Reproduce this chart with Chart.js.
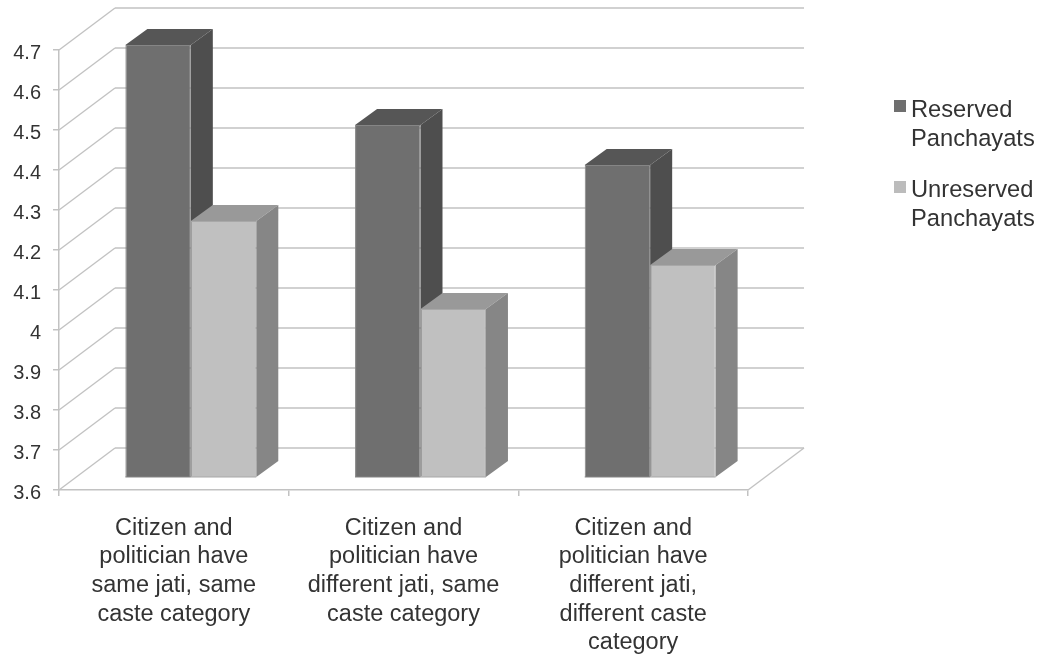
<!DOCTYPE html>
<html>
<head>
<meta charset="utf-8">
<title>Panchayats</title>
<script src="https://cdn.jsdelivr.net/npm/chart.js@4"></script>
<style>
  html, body { margin: 0; padding: 0; background: #fff; }
  canvas { display: block; }
</style>
</head>
<body>
<canvas id="chart" width="1055" height="659"></canvas>
<script>
const categories = [
    ["Citizen and", "politician have", "same jati, same", "caste category"],
    ["Citizen and", "politician have", "different jati, same", "caste category"],
    ["Citizen and", "politician have", "different jati,", "different caste", "category"]
];
const seriesNames = [["Reserved", "Panchayats"], ["Unreserved", "Panchayats"]];
const reserved = [4.68, 4.48, 4.38];
const unreserved = [4.24, 4.02, 4.13];
const yTicks = [3.6, 3.7, 3.8, 3.9, 4, 4.1, 4.2, 4.3, 4.4, 4.5, 4.6, 4.7];

// face colours per series: front, top, side, edge
const FRONT = ['#6f6f6f', '#c0c0c0'], TOP = ['#565656', '#999999'], SIDE = ['#4e4e4e', '#868686'], EDGE = ['#858585', '#a8a8a8'];
const GRID = '#c2c2c2', TEXT = '#333333', FONT = '"Liberation Sans", Arial, sans-serif';

// depth of the box the chart sits in, and of the bars inside it
const WALL_X = 56, WALL_Y = -42, BAR_SHIFT_X = 17, BAR_SHIFT_Y = -13, BAR_DX = 22, BAR_DY = -16;

function poly(ctx, pts, fill) {
    ctx.beginPath();
    pts.forEach((p, i) => i ? ctx.lineTo(p[0], p[1]) : ctx.moveTo(p[0], p[1]));
    ctx.closePath();
    ctx.fillStyle = fill;
    ctx.fill();
}

function seg(ctx, x1, y1, x2, y2) {
    ctx.beginPath();
    ctx.moveTo(x1, y1);
    ctx.lineTo(x2, y2);
    ctx.stroke();
}

const box3d = {
    id: 'box3d',
    beforeDatasetsDraw(chart) {
        const { ctx, chartArea: a, scales: { y } } = chart;
        ctx.save();
        ctx.strokeStyle = GRID;
        ctx.lineWidth = 1.4;
        // left wall diagonals and back wall lines, one per tick
        yTicks.forEach(v => {
            const py = y.getPixelForValue(v);
            seg(ctx, a.left, py, a.left + WALL_X, py + WALL_Y);
            seg(ctx, a.left + WALL_X, py + WALL_Y, a.right + WALL_X, py + WALL_Y);
        });
        seg(ctx, a.right, a.bottom, a.right + WALL_X, a.bottom + WALL_Y);
        ctx.restore();

        // tops and sides go first so the front faces land over them
        ctx.save();
        ctx.translate(BAR_SHIFT_X, BAR_SHIFT_Y);
        chart.data.datasets.forEach((ds, i) => {
            chart.getDatasetMeta(i).data.forEach(bar => {
                const l = bar.x - bar.width / 2, r = bar.x + bar.width / 2;
                // bar.base sits at zero, far under the axis, so the floor comes from the chart area
                const b = a.bottom;
                poly(ctx, [[l, bar.y], [l + BAR_DX, bar.y + BAR_DY], [r + BAR_DX, bar.y + BAR_DY], [r, bar.y]], TOP[i]);
                poly(ctx, [[r, bar.y], [r + BAR_DX, bar.y + BAR_DY], [r + BAR_DX, b + BAR_DY], [r, b]], SIDE[i]);
            });
        });
        ctx.restore();

        // the library's own bars, pushed back off the floor edge
        ctx.save();
        ctx.translate(BAR_SHIFT_X, BAR_SHIFT_Y);
    },
    afterDatasetsDraw(chart) {
        const { ctx, chartArea: a } = chart;
        // bottom edge is clipped off the library's bars
        chart.data.datasets.forEach((ds, i) => {
            ctx.strokeStyle = EDGE[i];
            ctx.lineWidth = 1;
            chart.getDatasetMeta(i).data.forEach(bar => {
                seg(ctx, bar.x - bar.width / 2, a.bottom, bar.x + bar.width / 2, a.bottom);
            });
        });
        ctx.restore();
    },
    afterDraw(chart) {
        // legend on the right, two lines each
        const ctx = chart.ctx;
        ctx.save();
        ctx.font = '23.7px ' + FONT;
        ctx.textBaseline = 'alphabetic';
        const rows = [[100, 117], [181, 197]];
        chart.data.datasets.forEach((ds, i) => {
            ctx.fillStyle = i ? '#bcbcbc' : '#6f6f6f';
            ctx.fillRect(894, rows[i][0], 12, 12);
            ctx.fillStyle = TEXT;
            ds.label.forEach((line, j) => ctx.fillText(line, 911, rows[i][1] + j * 29));
        });
        ctx.restore();
    }
};

new Chart(document.getElementById('chart'), {
    type: 'bar',
    data: {
        labels: categories,
        datasets: [
            { label: seriesNames[0], data: reserved, backgroundColor: FRONT[0], borderColor: EDGE[0], borderWidth: 1 },
            { label: seriesNames[1], data: unreserved, backgroundColor: FRONT[1], borderColor: EDGE[1], borderWidth: 1 }
        ]
    },
    options: {
        responsive: false,
        animation: false,
        layout: { padding: { left: 0, right: 307, top: 50, bottom: 0 } },
        plugins: { legend: { display: false }, tooltip: { enabled: false } },
        datasets: { bar: { barPercentage: 1, categoryPercentage: 0.57 } },
        scales: {
            x: {
                offset: true,
                afterFit: s => { s.height = 169; },
                border: { color: GRID, width: 1.5 },
                grid: { color: GRID, lineWidth: 1.5, drawOnChartArea: false, tickLength: 6 },
                ticks: { color: TEXT, maxRotation: 0, autoSkip: false, padding: 18, font: { family: FONT, size: 23.5, lineHeight: 1.22 } }
            },
            y: {
                min: 3.6,
                max: 4.7,
                afterFit: s => { s.width = 59; },
                afterBuildTicks: s => { s.ticks = yTicks.map(value => ({ value })); },
                border: { color: GRID, width: 1.5 },
                grid: { color: GRID, lineWidth: 1.5, drawOnChartArea: false, tickLength: 6 },
                ticks: { color: TEXT, padding: 12, labelOffset: 3, callback: v => String(v), font: { family: FONT, size: 20 } }
            }
        }
    },
    plugins: [box3d]
});
</script>
</body>
</html>
